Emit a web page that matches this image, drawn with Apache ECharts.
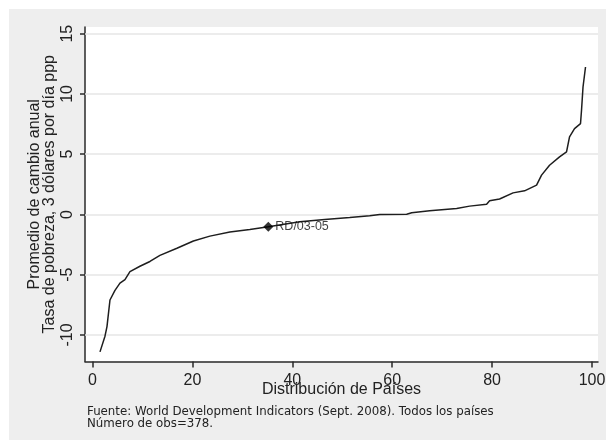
<!doctype html>
<html>
	<head>
		<meta charset="utf-8">
		<title>Distribución de Países</title>
		<script type="text/javascript" src="https://cdn.jsdelivr.net/npm/echarts@6.0.0/dist/echarts.min.js"></script>
		<style>
			body { margin: 0; padding: 0; background: #fff; }
			#wrap { position: relative; width: 606px; height: 440px; }
			#fondo { position: absolute; left: 9px; top: 9px; right: 0; bottom: 0; background: #eeeeee; }
			#tb { position: absolute; left: 0; top: 0; width: 606px; height: 440px; }
		</style>
	</head>

	<body>
		<div id="wrap">
			<div id="fondo"></div>
			<div id="tb"></div>
		</div>
		<script>
			// datos
			var pctl = [1.5, 2.5, 2.9, 3.5, 4.5, 5.5, 6.5, 7.5, 9.5, 11.5, 13.5, 16.9, 20.2, 23.5, 27.5, 31.5, 35.2, 41.5, 46.5, 51.5, 55.5, 57.5, 62.9, 63.9, 67.5, 72.9, 75.5, 78.9, 79.5, 81.5, 84.2, 86.5, 88.9, 89.9, 91.5, 93.5, 94.9, 95.5, 96.5, 97.7, 97.9, 98.2, 98.7];
			var cambio = [-11.4, -10.1, -9.3, -7.1, -6.3, -5.7, -5.4, -4.75, -4.3, -3.9, -3.4, -2.8, -2.2, -1.8, -1.45, -1.24, -1.03, -0.61, -0.42, -0.25, -0.11, 0, 0.02, 0.14, 0.3, 0.49, 0.69, 0.85, 1.13, 1.28, 1.79, 1.96, 2.43, 3.26, 4.08, 4.77, 5.19, 6.43, 7.12, 7.54, 8.64, 10.57, 12.23];
			// punto destacado
			var rdX = [35.2];
			var rdY = [-1.03];
			var rdLabel = ['RD/03-05'];
			// marcas de los ejes
			var xTicks = [0, 20, 40, 60, 80, 100];
			var yTicks = [-10, -5, 0, 5, 10, 15];

			var curva = pctl.map(function(v, i) { return [v, cambio[i]]; });
			var puntos = rdX.map(function(v, i) { return [v, rdY[i]]; });

			var fuente = '"Liberation Sans", Arial, sans-serif';
			var ejeLinea = { color: '#2a2a2a', width: 1.5 };

			var bt = document.getElementById('tb');
			var btchart = echarts.init(bt);

			btchart.setOption({
				animation: false,
				textStyle: { fontFamily: fuente },
				grid: {
					left: 85, right: 8, top: 27, bottom: 78.5,
					show: true, backgroundColor: '#ffffff', borderWidth: 0,
					outerBoundsMode: 'none'
				},
				xAxis: {
					type: 'value', min: -1.5, max: 101.2,
					name: 'Distribución de Países',
					nameLocation: 'middle', nameGap: 20, nameMoveOverlap: false,
					nameTextStyle: { fontSize: 16, color: '#222', fontFamily: fuente },
					axisLine: { onZero: false, lineStyle: ejeLinea },
					axisTick: { customValues: xTicks, length: 6, lineStyle: ejeLinea },
					axisLabel: { customValues: xTicks, fontSize: 16, color: '#222', margin: 11 },
					splitLine: { show: false }
				},
				yAxis: {
					type: 'value', min: -12.2, max: 15.55,
					name: 'Promedio de cambio anual\nTasa de pobreza, 3 dólares por día ppp',
					nameLocation: 'middle', nameGap: 28, nameRotate: 90, nameMoveOverlap: false,
					nameTextStyle: { fontSize: 16, lineHeight: 15, color: '#222', fontFamily: fuente },
					axisLine: { onZero: false, lineStyle: ejeLinea },
					axisTick: { customValues: yTicks, length: 5, lineStyle: ejeLinea },
					axisLabel: { customValues: yTicks, rotate: 90, fontSize: 16, color: '#222', margin: 9 },
					splitLine: { show: false }
				},
				graphic: [{
					type: 'text', left: 87, top: 405.5,
					style: {
						text: 'Fuente: World Development Indicators (Sept. 2008). Todos los países\nNúmero de obs=378.',
						font: '11.8px "DejaVu Sans", sans-serif',
						lineHeight: 12.5,
						fill: '#222'
					}
				}],
				series: [{
					// lineas de la cuadricula
					type: 'line', data: [], silent: true, z: 1,
					markLine: {
						silent: true, symbol: 'none', label: { show: false }, z: 1,
						lineStyle: { color: '#e6e6e6', width: 1.5, type: 'solid' },
						data: yTicks.map(function(v) { return { yAxis: v }; })
					}
				}, {
					type: 'line', data: curva, showSymbol: false, z: 3,
					lineStyle: { color: '#1e1e1e', width: 1.5 }
				}, {
					type: 'scatter', data: puntos, z: 4,
					symbol: 'diamond', symbolSize: 10,
					itemStyle: { color: '#000' },
					label: {
						show: true, position: 'right', distance: 2,
						formatter: function(p) { return rdLabel[p.dataIndex]; },
						fontSize: 12.5, color: '#111'
					}
				}]
			});
		</script>
	</body>
</html>
